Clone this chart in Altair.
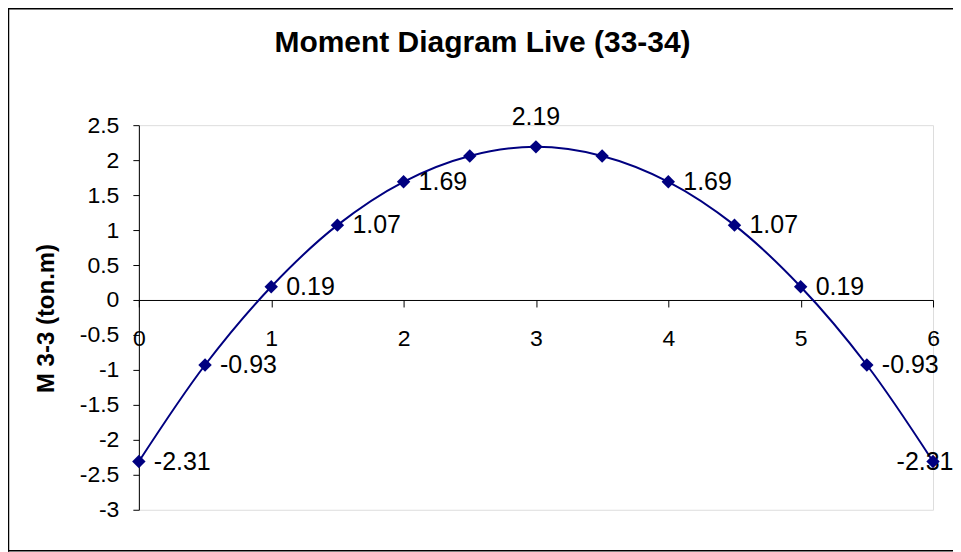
import altair as alt
import pandas as pd

# ---- data ----
x_vals = [0, 0.5, 1, 1.5, 2, 2.5, 3, 3.5, 4, 4.5, 5, 5.5, 6]
m_vals = [-2.31, -0.93, 0.19, 1.07, 1.69, 2.06, 2.19, 2.06, 1.69, 1.07, 0.19, -0.93, -2.31]
labels = ["-2.31", "-0.93", "0.19", "1.07", "1.69", "", "2.19", "", "1.69", "1.07", "0.19", "-0.93", "-2.31"]
label_pos = ["right", "right", "right", "right", "right", "none", "above", "none",
             "right", "right", "right", "right", "center"]
y_ticks = [-3, -2.5, -2, -1.5, -1, -0.5, 0, 0.5, 1, 1.5, 2, 2.5]
x_ticks = [0, 1, 2, 3, 4, 5, 6]
chart_title = "Moment Diagram Live (33-34)"
y_title = "M 3-3 (ton.m)"

df = pd.DataFrame({"x": x_vals, "m": m_vals, "label": labels, "pos": label_pos})

FONT = "Liberation Sans"
NAVY = "#000080"
W, H = 795, 385

xs = alt.Scale(domain=[0, 6], nice=False, zero=False)
ys = alt.Scale(domain=[-3, 2.5], nice=False, zero=False)

base = alt.Chart(df)

line = base.mark_line(color=NAVY, strokeWidth=2, interpolate="catmull-rom").encode(
    x=alt.X("x:Q", scale=xs,
            axis=alt.Axis(values=x_ticks, tickCount=20, title=None, offset=-210, grid=False,
                          tickSize=7, labelPadding=21, labelFontSize=23, labelFont=FONT,
                          labelColor="black", domainColor="black", tickColor="black",
                          labelExpr="toString(datum.value)", labelFlush=False)),
    y=alt.Y("m:Q", scale=ys,
            axis=alt.Axis(values=y_ticks, tickCount=30, title=y_title, grid=False, tickSize=6,
                          labelPadding=14, labelFontSize=23, labelFont=FONT,
                          labelColor="black", domainColor="black", tickColor="black",
                          labelExpr="toString(datum.value)", labelFlush=False,
                          labelOverlap=False,
                          titleFont=FONT, titleFontSize=24, titleFontWeight="bold",
                          titleColor="black", titleX=-92, titleY=193,
                          titleBaseline="middle", titleAlign="center")),
)

pts = base.mark_point(shape="diamond", filled=True, size=180, color=NAVY, opacity=1).encode(
    x=alt.X("x:Q", scale=xs), y=alt.Y("m:Q", scale=ys)
)

txt_style = dict(font=FONT, fontSize=25, color="black")

lab_right = base.transform_filter(alt.datum.pos == "right").mark_text(
    align="left", baseline="middle", dx=15, **txt_style
).encode(x=alt.X("x:Q", scale=xs), y=alt.Y("m:Q", scale=ys), text="label:N")

lab_above = base.transform_filter(alt.datum.pos == "above").mark_text(
    align="center", baseline="middle", dy=-30, **txt_style
).encode(x=alt.X("x:Q", scale=xs), y=alt.Y("m:Q", scale=ys), text="label:N")

lab_center = base.transform_filter(alt.datum.pos == "center").mark_text(
    align="center", baseline="middle", dx=-8, **txt_style
).encode(x=alt.X("x:Q", scale=xs), y=alt.Y("m:Q", scale=ys), text="label:N")

title_df = pd.DataFrame({"t": [chart_title]})
title = alt.Chart(title_df).mark_text(
    font=FONT, fontSize=30, fontWeight="bold", color="black",
    align="center", baseline="middle"
).encode(text="t:N", x=alt.value(344), y=alt.value(-82))

one = pd.DataFrame({"k": [0]})
border_top = alt.Chart(one).mark_rule(color="black", strokeWidth=1.5).encode(
    x=alt.value(-131), x2=alt.value(830), y=alt.value(-116.5))
border_left = alt.Chart(one).mark_rule(color="black", strokeWidth=1.5).encode(
    x=alt.value(-130.5), y=alt.value(-117), y2=alt.value(427))
border_bottom = alt.Chart(one).mark_rule(color="black", strokeWidth=1.5).encode(
    x=alt.value(-131), x2=alt.value(830), y=alt.value(426))

chart = alt.layer(
    border_top, border_left, border_bottom,
    line, lab_right, lab_above, lab_center, pts, title
).properties(
    width=W, height=H,
    autosize=alt.AutoSizeParams(type="none"),
    padding={"left": 131, "top": 117, "right": 20, "bottom": 43},
).configure_view(stroke=None).configure(background="white")

chart.save("out.html", embed_options={"renderer": "svg", "actions": False})
